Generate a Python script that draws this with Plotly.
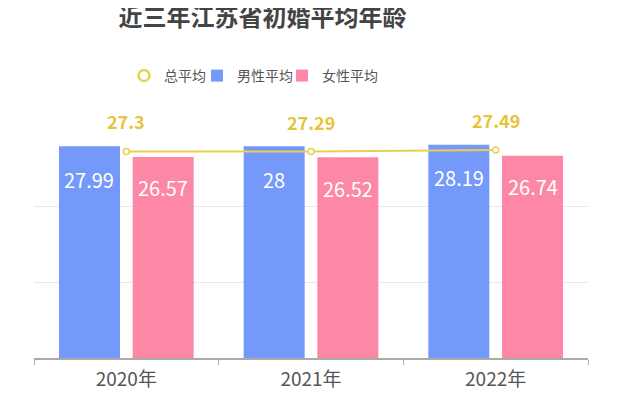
import plotly.graph_objects as go

categories = ["2020年", "2021年", "2022年"]
male_avg = [27.99, 28, 28.19]
female_avg = [26.57, 26.52, 26.74]
total_avg = [27.3, 27.29, 27.49]

BLUE = "#7599fa"
PINK = "#fd88a6"
YELLOW = "#ebd04e"
YELLOW_TXT = "#e6c43a"
FONT = "Noto Sans CJK SC"

# page body adds an 8px margin, so the figure is sized to fit the window
W, H = 611, 388
ML, MR, MT, MB = 26, 31, 122.5, 38
BARGAP, GROUPGAP = 0.202, 0.172

fig = go.Figure()
fig.add_trace(go.Scatter(x=[categories[0]], y=[None], mode="markers", name="总平均",
                         legend="legend",
                         marker=dict(symbol="circle-open", size=11, color=YELLOW,
                                     line=dict(width=2.5, color=YELLOW))))
fig.add_trace(go.Bar(x=categories, y=male_avg, name="男性平均", marker_color=BLUE,
                     marker_line_width=0, legend="legend2"))
fig.add_trace(go.Bar(x=categories, y=female_avg, name="女性平均", marker_color=PINK,
                     marker_line_width=0, legend="legend3"))
fig.add_trace(go.Scatter(x=categories, y=total_avg, mode="lines+markers", name="总平均",
                         showlegend=False, line=dict(color=YELLOW, width=2),
                         marker=dict(size=6, color="white", line=dict(color=YELLOW, width=1.5))))

plot_w = W - ML - MR
slot = plot_w / len(categories) * (1 - BARGAP) / 2
annotations = []
for c, m, f, t in zip(categories, male_avg, female_avg, total_avg):
    annotations.append(dict(x=c, y=m, text=str(m), showarrow=False, xshift=-slot / 2,
                            yshift=-33, font=dict(color="white", size=20, family=FONT)))
    annotations.append(dict(x=c, y=f, text=str(f), showarrow=False, xshift=slot / 2,
                            yshift=-31, font=dict(color="white", size=20, family=FONT)))
    annotations.append(dict(x=c, y=t, text="<b>" + str(t) + "</b>", showarrow=False,
                            yshift=30, font=dict(color=YELLOW_TXT, size=18, family=FONT)))


def legend_at(px):
    return dict(orientation="h", xref="container", yref="container",
                x=px / W, xanchor="left", y=1 - 68 / H, yanchor="middle",
                font=dict(size=14, color="#555555", family=FONT),
                itemwidth=30, bgcolor="rgba(0,0,0,0)")


fig.update_layout(
    width=W, height=H,
    margin=dict(l=ML, r=MR, t=MT, b=MB),
    paper_bgcolor="white", plot_bgcolor="white",
    barmode="group", bargap=BARGAP, bargroupgap=GROUPGAP,
    font=dict(family=FONT, color="#555555"),
    title=dict(text="<b>近三年江苏省初婚平均年龄</b>", x=254.5 / W, xanchor="center",
               xref="container", yref="container", y=1 - 1.5 / H, yanchor="top",
               font=dict(size=24, color="#444444", family=FONT)),
    legend=legend_at(116),
    legend2=legend_at(189),
    legend3=legend_at(274),
    annotations=annotations,
    showlegend=True,
)
fig.update_xaxes(type="category", categoryorder="array", categoryarray=categories,
                 automargin=False,
                 showline=True, linecolor="#aaaaaa", linewidth=1.5,
                 ticks="outside", tickson="boundaries", ticklen=5, tickcolor="#aaaaaa",
                 ticklabelstandoff=3,
                 tickfont=dict(size=19, color="#555555", family=FONT), showgrid=False)
fig.update_yaxes(range=[0, 30], tickvals=[10, 20], showticklabels=False, automargin=False,
                 showgrid=True, gridcolor="#e9e9e9", gridwidth=1, zeroline=False)

fig.write_html("out.html")
